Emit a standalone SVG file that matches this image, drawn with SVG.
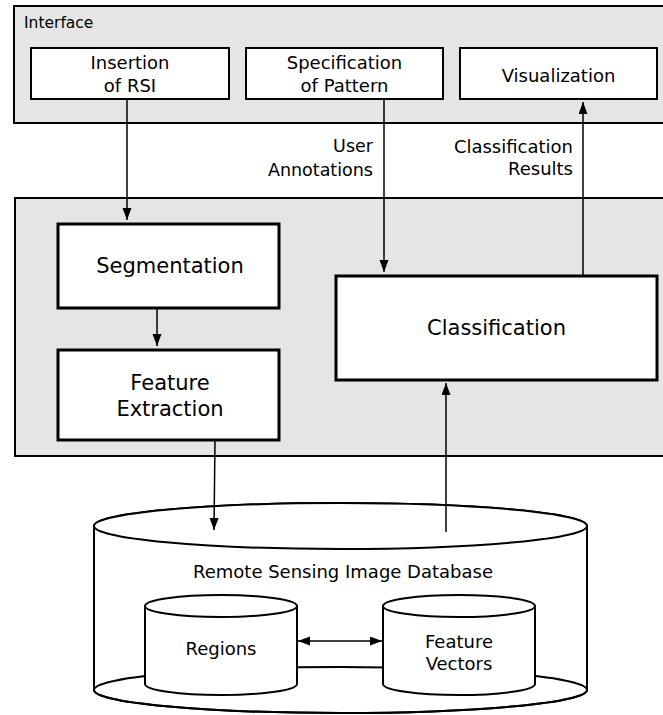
<svg xmlns="http://www.w3.org/2000/svg" width="663" height="715" viewBox="0 0 663 715">
<style>
text{font-family:"DejaVu Sans","Liberation Sans",sans-serif;fill:#000}
.panel{fill:#e5e5e5;stroke:#000;stroke-width:2}
.ibox{fill:#fff;stroke:#000;stroke-width:2}
.pbox{fill:#fff;stroke:#000;stroke-width:3}
.t{font-size:15.5px}
.s{font-size:18px}
.l{font-size:17.5px}
.b{font-size:21px}
.c{text-anchor:middle}
.r{text-anchor:end}
.cyl{fill:#fff;stroke:#000;stroke-width:2}
.ln{fill:none;stroke:#000;stroke-width:1.5}
</style>
<defs>
<marker id="ah" markerUnits="userSpaceOnUse" markerWidth="13" markerHeight="10" refX="12" refY="4.5" orient="auto-start-reverse">
<path d="M0,0 L12,4.5 L0,9 z" fill="#000"/>
</marker>
</defs>
<g id="interface">
<rect class="panel" x="14" y="6" width="700" height="117"/>
<text class="t" x="24" y="28">Interface</text>
</g>
<g id="insertion">
<rect class="ibox" x="31" y="48" width="198" height="51"/>
<text class="s c" x="130" y="69">Insertion</text>
<text class="s c" x="130" y="92">of RSI</text>
</g>
<g id="specification">
<rect class="ibox" x="246" y="48" width="197" height="51"/>
<text class="s c" x="344.5" y="69">Specification</text>
<text class="s c" x="344.5" y="92">of Pattern</text>
</g>
<g id="visualization">
<rect class="ibox" x="460" y="48" width="197" height="51"/>
<text class="s c" x="558.5" y="82">Visualization</text>
</g>
<g id="processing">
<rect class="panel" x="15" y="198" width="700" height="258"/>
</g>
<g id="segmentation">
<rect class="pbox" x="58" y="224" width="221" height="84"/>
<text class="b c" x="170" y="273">Segmentation</text>
</g>
<g id="feature-extraction">
<rect class="pbox" x="58" y="350" width="221" height="90"/>
<text class="b c" x="170" y="390">Feature</text>
<text class="b c" x="170" y="416">Extraction</text>
</g>
<g id="classification">
<rect class="pbox" x="336" y="276" width="321" height="104"/>
<text class="b c" x="496.5" y="335">Classification</text>
</g>
<g id="database">
<path class="cyl" d="M94,526 V690 A246.5,23 0 0 0 587,690 V526 A246.5,23 0 0 0 94,526 z"/>
<ellipse cx="340.5" cy="690" rx="246.5" ry="23" fill="none" stroke="#000" stroke-width="2"/>
<ellipse class="cyl" cx="340.5" cy="526" rx="246.5" ry="23"/>
<text class="s c" x="343" y="578">Remote Sensing Image Database</text>
</g>
<g id="regions">
<path class="cyl" d="M145,606 V684 A76,11 0 0 0 297,684 V606 z"/>
<ellipse class="cyl" cx="221" cy="606" rx="76" ry="11"/>
<text class="s c" x="221" y="655">Regions</text>
</g>
<g id="feature-vectors">
<path class="cyl" d="M383,606 V684 A76,11 0 0 0 535,684 V606 z"/>
<ellipse class="cyl" cx="459" cy="606" rx="76" ry="11"/>
<text class="s c" x="459" y="648">Feature</text>
<text class="s c" x="459" y="670">Vectors</text>
</g>
<g id="connectors">
<path class="ln" d="M127,99 V220" marker-end="url(#ah)"/>
<path class="ln" d="M384,99 V272" marker-end="url(#ah)"/>
<path class="ln" d="M583,276 V102" marker-end="url(#ah)"/>
<path class="ln" d="M157,308 V346" marker-end="url(#ah)"/>
<path class="ln" d="M215,440 L214,530" marker-end="url(#ah)"/>
<path class="ln" d="M446,532 V383" marker-end="url(#ah)"/>
<path class="ln" d="M298,641 H382" marker-start="url(#ah)" marker-end="url(#ah)"/>
<text class="l r" x="373" y="152">User</text>
<text class="l r" x="373" y="176">Annotations</text>
<text class="s r" x="573" y="153">Classification</text>
<text class="s r" x="573" y="175">Results</text>
</g>
</svg>
